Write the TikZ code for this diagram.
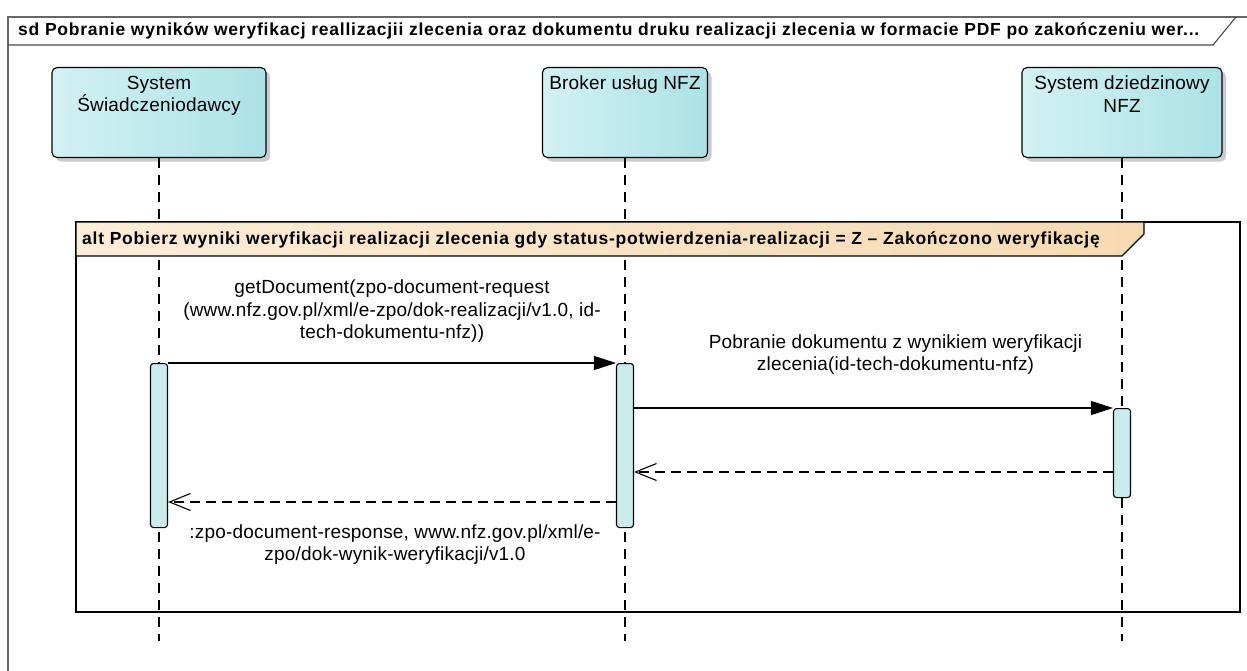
\documentclass[tikz,border=0pt]{standalone}
\usepackage{fontspec}
\setmainfont{Liberation Sans}
\newfontfamily\widesans[LetterSpace=4.4]{Liberation Sans}
\newfontfamily\bodysans[LetterSpace=1]{Liberation Sans}
\usetikzlibrary{arrows.meta, positioning, shadows}

\definecolor{headL}{RGB}{210,241,243}
\definecolor{headR}{RGB}{172,226,230}
\definecolor{actC}{RGB}{200,236,238}
\definecolor{tabL}{RGB}{252,237,216}
\definecolor{tabR}{RGB}{246,218,178}

\begin{document}
\begin{tikzpicture}[x=1pt, y=-1pt,
    head/.style={rectangle, draw, line width=1.1pt, rounded corners=5pt,
                 minimum width=#1, minimum height=90pt, anchor=north,
                 left color=headL, right color=headR,
                 drop shadow={shadow xshift=4pt, shadow yshift=-4pt, fill=black!20, opacity=1}},
    headtxt/.style={inner sep=0pt, align=center, anchor=north,
                    font=\bodysans\fontsize{19}{22.5}\selectfont},
    act/.style={rectangle, draw, line width=1.1pt, rounded corners=3pt, fill=actC,
                minimum width=17pt, inner sep=0pt, anchor=north},
    lifeline/.style={line width=1.2pt, dash pattern=on 10pt off 7pt},
    msg/.style={line width=1.1pt, -{Triangle[length=22pt, width=14pt]}},
    ret/.style={line width=1.1pt, dash pattern=on 10pt off 6pt,
                -{Straight Barb[length=21pt, width=17pt, line width=1.1pt]}},
    lbl/.style={inner sep=0pt, align=center, font=\bodysans\fontsize{19}{22.5}\selectfont},
    bold/.style={inner sep=0pt, anchor=west, font=\widesans\fontsize{17.5}{20}\selectfont\bfseries}
]
\useasboundingbox (0,0) rectangle (1247,671);
\fill[white] (0,0) rectangle (1247,671);

% Diagram frame
\draw[black!60, line width=1.1pt] (8,671) -- (8,17) -- (1247,17);
\draw[black!70, line width=1.1pt] (8,45) -- (1213,45) -- (1236,17);
\node[bold] (title) at (18,31) {sd Pobranie wyników weryfikacj reallizacjii zlecenia oraz dokumentu druku realizacji zlecenia w formacie PDF po zakończeniu wer...};

% Lifeline heads
\node[head=214] (sys)    at (159,67)  {};
\node[head=165] (broker) at (625,67)  {};
\node[head=200] (dom)    at (1122,67) {};
\node[headtxt, below=9pt of sys.north]    {System\\Świadczeniodawcy};
\node[headtxt, below=9pt of broker.north] {Broker usług NFZ};
\node[headtxt, below=9pt of dom.north]    {System dziedzinowy\\NFZ};

% Lifelines
\coordinate (sysend)    at (159,641);
\coordinate (brokerend) at (625,641);
\coordinate (domend)    at (1122,641);
\draw[lifeline] (sys.south)    -- (sysend);
\draw[lifeline] (broker.south) -- (brokerend);
\draw[lifeline] (dom.south)    -- (domend);

% Alt fragment
\draw[line width=1.6pt] (76,222) rectangle (1240,612);
\draw[line width=1.1pt, left color=tabL, right color=tabR]
    (76,222) -- (1144,222) -- (1144,234) -- (1122,256) -- (76,256) -- cycle;
\node[bold] (alt) at (82,240) {alt Pobierz wyniki weryfikacji realizacji zlecenia gdy status-potwierdzenia-realizacji = Z – Zakończono weryfikację};

% Activations
\node[act, minimum height=164pt] (act1) at (159,363)  {};
\node[act, minimum height=164pt] (act2) at (625,363)  {};
\node[act, minimum height=89pt]  (act3) at (1122,408) {};

% Messages
\draw[msg] (act1.north east) -- node[lbl, above=20pt]
    {getDocument(zpo-document-request\\(www.nfz.gov.pl/xml/e-zpo/dok-realizacji/v1.0, id-\\tech-dokumentu-nfz))}
    (act2.north west);
\draw[msg] (act2.east |- act3.north) -- node[lbl, above=33pt, xshift=22pt]
    {Pobranie dokumentu z wynikiem weryfikacji\\zlecenia(id-tech-dokumentu-nfz)}
    (act3.north west);

% Returns
\coordinate (m3s) at ([yshift=-64pt]act3.north west);
\coordinate (m4s) at ([yshift=-139pt]act2.north west);
\draw[ret] (m3s) -- (m3s -| act2.east);
\draw[ret] (m4s) -- node[lbl, below=22pt, xshift=3pt]
    {:zpo-document-response, www.nfz.gov.pl/xml/e-\\zpo/dok-wynik-weryfikacji/v1.0}
    (m4s -| act1.east);
\end{tikzpicture}
\end{document}
